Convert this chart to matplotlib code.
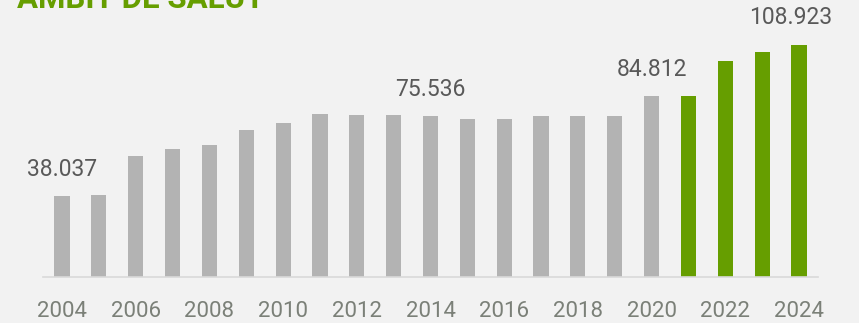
import matplotlib.pyplot as plt

years = list(range(2004, 2025))
values = [38037, 38300, 56600, 59800, 61700, 68700, 72000, 76200, 75800, 75700,
          75536, 73900, 73900, 75300, 75300, 75300, 84812, 84900, 101000, 105600, 108923]
labelled = {2004: "38.037", 2014: "75.536", 2020: "84.812", 2024: "108.923"}
tick_years = list(range(2004, 2025, 2))

bg = "#f2f2f2"
gray = "#b3b3b3"
green = "#669e00"

plt.rcParams["font.family"] = ["Roboto", "DejaVu Sans"]

fig = plt.figure(figsize=(8.59, 3.23), dpi=100, facecolor=bg)
ax = fig.add_axes([43 / 859, 46 / 323, 775 / 859, 277 / 323])
ax.set_facecolor(bg)

colors = [green if y >= 2021 else gray for y in years]
ax.bar(years, values, width=0.41, color=colors)

for y, v in zip(years, values):
    if y in labelled:
        dx = -6 if y == 2024 else 0
        ax.annotate(labelled[y], (y, v), xytext=(dx, 11), textcoords="offset points",
                    ha="center", va="bottom", fontsize=16.5, color="#595959")

ax.set_xlim(2003.484, 2024.516)
ax.set_ylim(0, 129800)
ax.set_xticks(tick_years)
ax.set_xticklabels([str(t) for t in tick_years], fontsize=16, color="#7b8078")
ax.tick_params(axis="x", length=0, pad=17)
ax.set_yticks([])
for s in ["top", "right", "left"]:
    ax.spines[s].set_visible(False)
ax.spines["bottom"].set_color("#d9d9d9")
ax.spines["bottom"].set_linewidth(1.2)

fig.text(17 / 859, 1 - 8 / 323, "ÀMBIT DE SALUT", fontsize=22.5, fontweight="bold",
         color=green, ha="left", va="baseline")

fig.savefig("out.png", dpi=100, facecolor=bg)
